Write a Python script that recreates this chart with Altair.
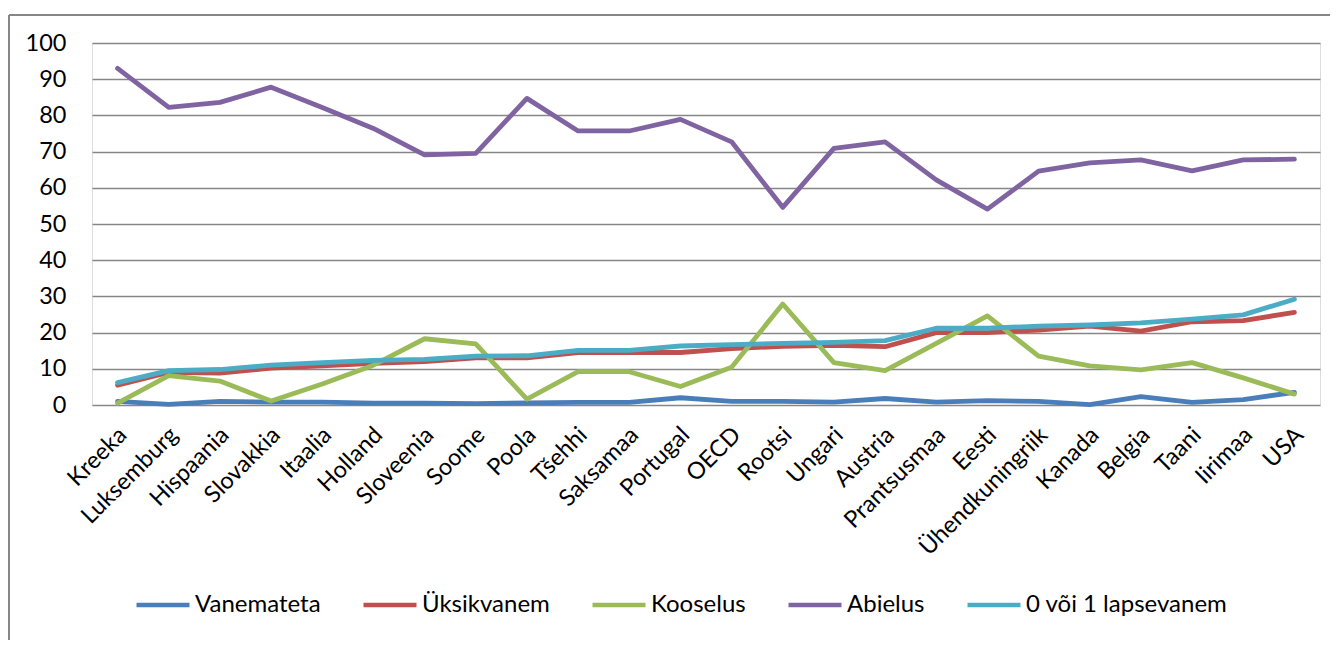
import altair as alt
import pandas as pd

countries = ["Kreeka", "Luksemburg", "Hispaania", "Slovakkia", "Itaalia", "Holland",
             "Sloveenia", "Soome", "Poola", "Tšehhi", "Saksamaa", "Portugal", "OECD",
             "Rootsi", "Ungari", "Austria", "Prantsusmaa", "Eesti", "Ühendkuningriik",
             "Kanada", "Belgia", "Taani", "Iirimaa", "USA"]

series_names = ["Vanemateta", "Üksikvanem", "Kooselus", "Abielus", "0 või 1 lapsevanem"]
series_colors = ["#4A7EBB", "#C0504D", "#9BBB59", "#8064A2", "#4BACC6"]

vanemateta = [1.0, 0.2, 1.0, 0.8, 0.8, 0.5, 0.5, 0.4, 0.6, 0.7, 0.7, 2.0, 1.0, 1.0,
              0.8, 1.8, 0.8, 1.2, 1.0, 0.1, 2.3, 0.7, 1.5, 3.5]
uksikvanem = [5.5, 9.0, 8.8, 10.2, 10.8, 11.5, 12.0, 13.0, 13.0, 14.5, 14.5, 14.5, 15.6,
              16.2, 16.5, 16.1, 20.0, 20.0, 20.7, 21.8, 20.4, 23.0, 23.3, 25.6]
kooselus = [0.5, 8.1, 6.6, 1.1, 5.8, 11.0, 18.3, 16.9, 1.6, 9.2, 9.2, 5.1, 10.4, 27.9,
            11.7, 9.5, 17.0, 24.6, 13.5, 10.8, 9.7, 11.7, 7.5, 3.0]
abielus = [93.0, 82.2, 83.6, 87.8, 82.2, 76.4, 69.1, 69.5, 84.7, 75.7, 75.7, 78.9, 72.7,
           54.6, 70.9, 72.7, 62.2, 54.1, 64.6, 66.9, 67.7, 64.7, 67.7, 67.9]
lapsevanem01 = [6.2, 9.5, 9.8, 11.0, 11.7, 12.3, 12.6, 13.5, 13.6, 15.1, 15.1, 16.3, 16.7,
                17.0, 17.3, 17.8, 21.2, 21.2, 21.8, 22.1, 22.7, 23.7, 24.9, 29.2]

all_values = [vanemateta, uksikvanem, kooselus, abielus, lapsevanem01]

rows = []
for name, vals in zip(series_names, all_values):
    for c, v in zip(countries, vals):
        rows.append({"riik": c, "seeria": name, "vaartus": v})
df = pd.DataFrame(rows)

FONT = "Lato"
W, H = 1228, 362

lines = alt.Chart(df).mark_line(strokeWidth=4.8, strokeCap="round", strokeJoin="round").encode(
    x=alt.X("riik:N", sort=countries, title=None,
            scale=alt.Scale(padding=0.5),
            axis=alt.Axis(labelAngle=-45, labelAlign="right", labelBaseline="middle",
                          labelPadding=26, labelOffset=5, ticks=False, tickSize=0,
                          domain=False, grid=False,
                          labelFont=FONT, labelFontSize=23.5, labelColor="#000000")),
    y=alt.Y("vaartus:Q", title=None,
            scale=alt.Scale(domain=[0, 100], nice=False),
            axis=alt.Axis(values=list(range(0, 101, 10)), ticks=False, tickSize=0, domain=False,
                          grid=True, gridColor="#868686", gridWidth=1.5, labelPadding=26,
                          labelFont=FONT, labelFontSize=23.5, labelColor="#000000")),
    color=alt.Color("seeria:N", sort=series_names,
                    scale=alt.Scale(domain=series_names, range=series_colors),
                    legend=alt.Legend(title=None, orient="none", direction="horizontal",
                                      legendX=42, legendY=533,
                                      symbolType="stroke", symbolSize=2809,
                                      symbolStrokeWidth=4.5, columnPadding=33,
                                      labelOffset=3, labelFont=FONT, labelFontSize=24,
                                      labelColor="#000000", labelLimit=400)),
)

frame_top = alt.Chart(df).mark_rule(color="#868686", strokeWidth=1.5).encode(
    x=alt.value(-83), x2=alt.value(W + 30), y=alt.value(-28))
frame_left = alt.Chart(df).mark_rule(color="#868686", strokeWidth=1.5).encode(
    x=alt.value(-83.5), y=alt.value(-28), y2=alt.value(H + 260))

chart = alt.layer(frame_top, frame_left, lines).properties(
    width=W, height=H,
    autosize=alt.AutoSizeParams(type="none"),
    padding={"left": 84, "top": 35, "right": 10, "bottom": 235},
).configure_view(stroke=None).configure(background="#ffffff")

chart.save("out.html", embed_options={"renderer": "svg", "actions": False})
